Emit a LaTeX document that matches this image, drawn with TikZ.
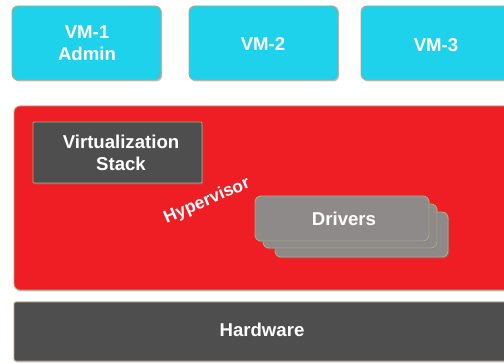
\documentclass[tikz,border=0pt]{standalone}
\usepackage{fontspec}
\setmainfont{Liberation Sans}
\usetikzlibrary{shadows}
\definecolor{vmcyan}{RGB}{30,210,236}
\definecolor{hvred}{RGB}{238,30,36}
\definecolor{darkbox}{RGB}{78,78,78}
\definecolor{drvgray}{RGB}{142,138,138}
\definecolor{edgetan}{RGB}{176,168,130}
\tikzset{
  layerbox/.style={draw=edgetan, line width=0.9pt, rounded corners=6pt,
    drop shadow={shadow xshift=1.2pt, shadow yshift=-1.5pt, opacity=0.5}},
  boxtext/.style={text=white, font=\bfseries\fontsize{18.6}{21.5}\selectfont, align=center},
}
\begin{document}
\begin{tikzpicture}[x=1pt,y=-1pt]
  \useasboundingbox (0,0) rectangle (504,363);
  \fill[white] (0,0) rectangle (504,363);
  \clip (0,0) rectangle (504,363);

  % virtual machines
  \draw[layerbox, fill=vmcyan] (12,6) rectangle (161,80);
  \node[boxtext] (vm1) at (87,43) {VM-1\\Admin};
  \draw[layerbox, fill=vmcyan] (189,6) rectangle (338,80);
  \node[boxtext] (vm2) at (263,44) {VM-2};
  \draw[layerbox, fill=vmcyan] (361,6) rectangle (514,80);
  \node[boxtext] (vm3) at (436,45) {VM-3};

  % hypervisor layer
  \draw[layerbox, fill=hvred] (14,106) rectangle (514,290);
  \draw[layerbox, rounded corners=1pt, fill=darkbox] (33,122) rectangle (202,183);
  \node[boxtext] (vstack) at (121,153) {Virtualization\\Stack};
  \node[text=white, font=\bfseries\fontsize{17.5}{20}\selectfont, rotate=23] (hv) at (207,201) {Hypervisor};

  % stacked driver cards
  \draw[layerbox, fill=drvgray] (275,212) rectangle (448,257);
  \draw[layerbox, fill=drvgray] (263,204) rectangle (437,248);
  \draw[layerbox, fill=drvgray] (255,196) rectangle (429,241);
  \node[boxtext] (drv) at (344,219) {Drivers};

  % hardware layer
  \draw[layerbox, rounded corners=2pt, fill=darkbox] (14,302) rectangle (514,361);
  \node[boxtext] (hw) at (262,330) {Hardware};
\end{tikzpicture}
\end{document}
